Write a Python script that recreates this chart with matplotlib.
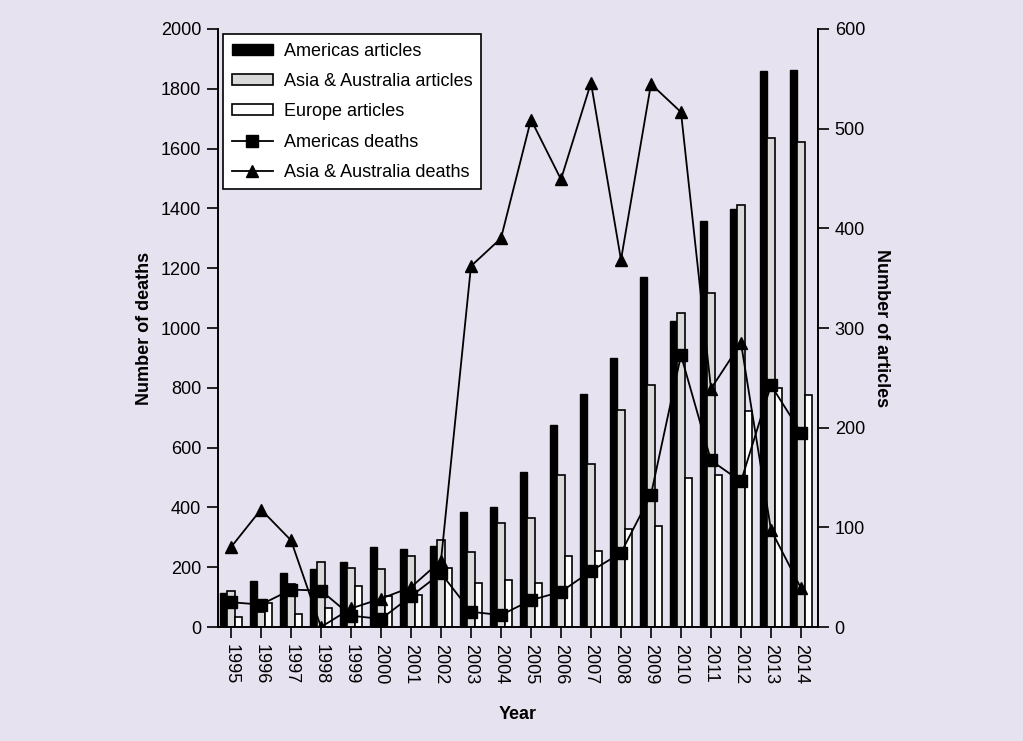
import matplotlib.pyplot as plt
import numpy as np

years = [str(y) for y in range(1995, 2015)]

# articles (right axis)
americas_articles = [34, 46, 54, 58, 65, 80, 78, 81, 115, 120, 156, 203, 234, 270, 351, 307, 407, 419, 558, 559]
asia_articles = [36, 15, 43, 65, 59, 58, 71, 87, 75, 104, 109, 153, 164, 218, 243, 315, 335, 423, 491, 487]
europe_articles = [10, 24, 13, 19, 41, 31, 32, 59, 44, 47, 44, 71, 76, 98, 101, 150, 153, 217, 240, 233]

# deaths (left axis)
americas_deaths = [83, 75, 125, 122, 38, 27, 103, 180, 51, 40, 90, 118, 187, 248, 443, 909, 557, 487, 809, 650]
asia_deaths = [267, 393, 290, 0, 62, 95, 133, 222, 1207, 1300, 1697, 1497, 1820, 1228, 1816, 1722, 797, 950, 325, 130]

plt.rcParams['font.family'] = ['Liberation Sans', 'DejaVu Sans']

fig = plt.figure(figsize=(10.23, 7.41), dpi=100)
fig.patch.set_facecolor('#e7e2ef')
ax = fig.add_axes([0.2131, 0.1538, 0.5865, 0.8071])
ax2 = ax.twinx()

x = np.arange(len(years))
w = 0.235
b1 = ax2.bar(x - w, americas_articles, w, color='black', edgecolor='black', linewidth=1, label='Americas articles')
b2 = ax2.bar(x, asia_articles, w, color='#d9d9d9', edgecolor='black', linewidth=1.2, label='Asia & Australia articles')
b3 = ax2.bar(x + w, europe_articles, w, color='white', edgecolor='black', linewidth=1.2, label='Europe articles')

l1, = ax.plot(x, americas_deaths, color='black', marker='s', markersize=8, linewidth=1.3, label='Americas deaths')
l2, = ax.plot(x, asia_deaths, color='black', marker='^', markersize=8, linewidth=1.3, label='Asia & Australia deaths')

ax.set_zorder(ax2.get_zorder() + 1)
ax.patch.set_visible(False)
ax2.set_facecolor('white')

ax.set_xlim(-0.433, 19.567)
ax.set_ylim(0, 2000)
ax2.set_ylim(0, 600)
ax.set_yticks(range(0, 2001, 200))
ax2.set_yticks(range(0, 601, 100))
ax.set_xticks(x)
ax.set_xticklabels(years, rotation=-90, fontsize=13)

for a in (ax, ax2):
    a.spines['top'].set_visible(False)
    for s in ('left', 'right', 'bottom'):
        a.spines[s].set_linewidth(1.2)
    a.tick_params(direction='out', length=8, width=1.2, labelsize=13, pad=4)

ax.set_ylabel('Number of deaths', fontsize=13, fontweight='bold', labelpad=6)
ax2.set_ylabel('Number of articles', fontsize=13, fontweight='bold', rotation=-90, labelpad=18)
ax.set_xlabel('Year', fontsize=13, fontweight='bold', labelpad=16)

leg = ax.legend([b1, b2, b3, l1, l2],
                ['Americas articles', 'Asia & Australia articles', 'Europe articles',
                 'Americas deaths', 'Asia & Australia deaths'],
                loc='upper left', bbox_to_anchor=(0.003, 0.997), fontsize=13,
                fancybox=False, edgecolor='black', framealpha=1,
                handlelength=2.3, handleheight=0.55, labelspacing=0.74,
                borderpad=0.45, handletextpad=0.6, borderaxespad=0.2)
leg.get_frame().set_linewidth(1.2)

fig.savefig('out.png', dpi=100, facecolor=fig.get_facecolor())
